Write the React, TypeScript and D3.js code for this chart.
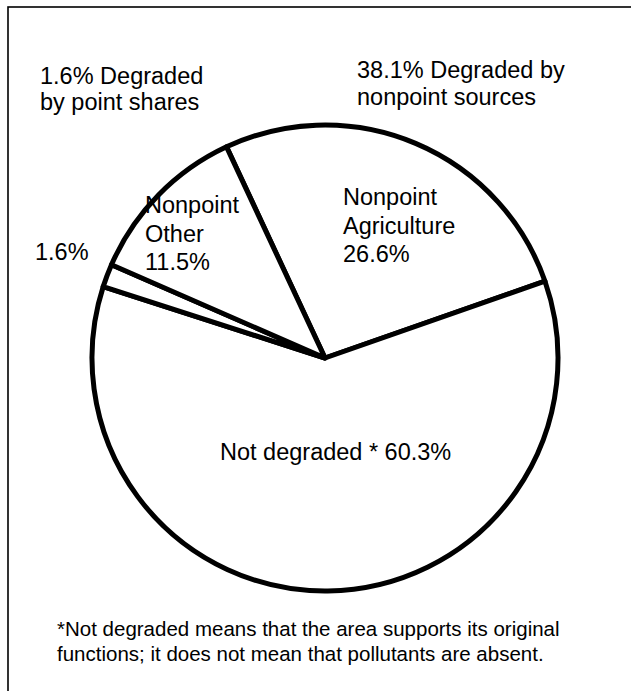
import React from "react";
import * as d3 from "d3";

const categories = ["Nonpoint Agriculture", "Not degraded", "Point sources", "Nonpoint Other"];
const values = [26.6, 60.3, 1.6, 11.5];
const sliceLabels = [
  ["Nonpoint", "Agriculture", "26.6%"],
  ["Not degraded * 60.3%"],
  ["1.6%"],
  ["Nonpoint", "Other", "11.5%"],
];
const groupLabels = [
  ["1.6% Degraded", "by point shares"],
  ["38.1% Degraded by", "nonpoint sources"],
];
const footnote = [
  "*Not degraded means that the area supports its original",
  "functions; it does not mean that pollutants are absent.",
];

const W = 631;
const H = 691;
const cx = 325;
const cy = 358;
const R = 233;
const FONT = "'Liberation Sans', Arial, Helvetica, sans-serif";

// label anchor positions (layout)
const sliceLabelPos = [
  { x: 343, y: 205, lh: 28.5 },
  { x: 220, y: 460, lh: 28 },
  { x: 35, y: 260, lh: 28 },
  { x: 145, y: 213, lh: 28.5 },
];
const groupLabelPos = [
  { x: 40, y: 84, lh: 26 },
  { x: 357, y: 78, lh: 27 },
];

export default function App() {
  const startAngle = (-25 * Math.PI) / 180;
  const pie = d3
    .pie<number>()
    .sort(null)
    .value((d) => d)
    .startAngle(startAngle)
    .endAngle(startAngle + 2 * Math.PI);
  const arcs = pie(values);
  const arc = d3.arc<d3.PieArcDatum<number>>().innerRadius(0).outerRadius(R);

  return (
    <svg
      width={W}
      height={H}
      style={{ position: "absolute", left: 0, top: 0, background: "#fff" }}
      fontFamily={FONT}
    >
      <rect x={0} y={0} width={W} height={H} fill="#fff" />
      <rect x={8} y={7} width={W + 20} height={H + 20} fill="none" stroke="#000" strokeWidth={1.6} />
      <g transform={`translate(${cx},${cy})`}>
        {arcs.map((a, i) => (
          <path
            key={categories[i]}
            d={arc(a) || ""}
            fill="#fff"
            stroke="#000"
            strokeWidth={5}
            strokeLinejoin="round"
          />
        ))}
      </g>
      {sliceLabels.map((lines, i) => (
        <text key={"s" + i} fontSize={23.5} fill="#000">
          {lines.map((l, j) => (
            <tspan key={j} x={sliceLabelPos[i].x} y={sliceLabelPos[i].y + j * sliceLabelPos[i].lh}>
              {l}
            </tspan>
          ))}
        </text>
      ))}
      {groupLabels.map((lines, i) => (
        <text key={"g" + i} fontSize={23.5} fill="#000">
          {lines.map((l, j) => (
            <tspan key={j} x={groupLabelPos[i].x} y={groupLabelPos[i].y + j * groupLabelPos[i].lh}>
              {l}
            </tspan>
          ))}
        </text>
      ))}
      <text fontSize={20.5} fill="#000">
        {footnote.map((l, j) => (
          <tspan key={j} x={57} y={636 + j * 25}>
            {l}
          </tspan>
        ))}
      </text>
    </svg>
  );
}
